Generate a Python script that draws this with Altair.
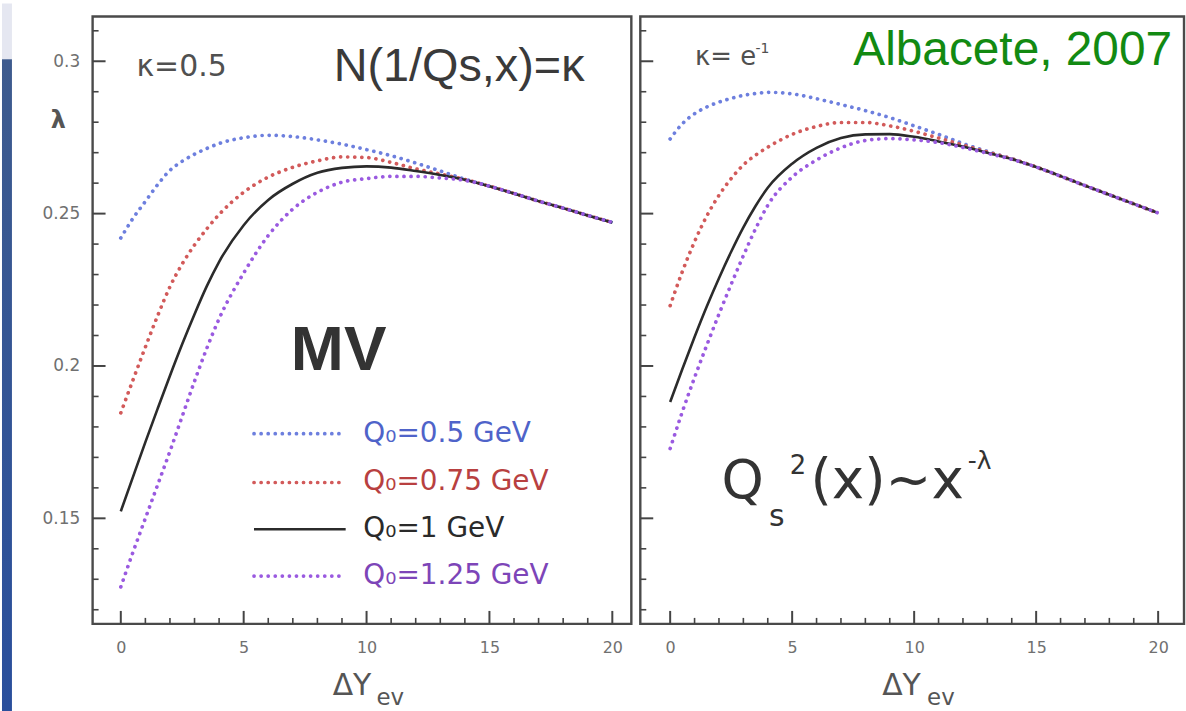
import altair as alt
import pandas as pd

# ---------------- data ----------------
X = [0, 0.5, 1, 1.5, 2, 2.5, 3, 3.5, 4, 5, 6, 7, 8, 9, 10, 11, 12, 13, 14, 15, 16, 17, 18, 19, 20]

# left panel (kappa = 0.5)
L_Q050 = [0.2420, 0.2485, 0.2540, 0.2595, 0.2642, 0.2672, 0.2695, 0.2714, 0.2730, 0.2749, 0.2757, 0.2753,
          0.2742, 0.2728, 0.2710, 0.2690, 0.2666, 0.2640, 0.2613, 0.2590, 0.2566, 0.2541, 0.2518, 0.2494, 0.2471]
L_Q075 = [0.1846, 0.1955, 0.2062, 0.2165, 0.2260, 0.2335, 0.2397, 0.2450, 0.2497, 0.2570, 0.2620, 0.2652,
          0.2673, 0.2686, 0.2684, 0.2668, 0.2647, 0.2630, 0.2612, 0.2590, 0.2566, 0.2541, 0.2518, 0.2494, 0.2471]
L_Q100 = [0.1523, 0.1637, 0.1750, 0.1860, 0.1968, 0.2072, 0.2170, 0.2262, 0.2342, 0.2462, 0.2545, 0.2598,
          0.2634, 0.2650, 0.2655, 0.2651, 0.2640, 0.2627, 0.2611, 0.2590, 0.2566, 0.2541, 0.2518, 0.2494, 0.2471]
L_Q125 = [0.1275, 0.1390, 0.1500, 0.1610, 0.1720, 0.1835, 0.1950, 0.2058, 0.2155, 0.2305, 0.2428, 0.2515,
          0.2570, 0.2603, 0.2615, 0.2622, 0.2622, 0.2617, 0.2609, 0.2590, 0.2566, 0.2541, 0.2518, 0.2494, 0.2471]

# right panel (kappa = e^-1)
R_Q050 = [0.2745, 0.2795, 0.2828, 0.2850, 0.2866, 0.2878, 0.2888, 0.2894, 0.2898, 0.2893, 0.2877, 0.2858,
          0.2838, 0.2815, 0.2788, 0.2760, 0.2730, 0.2704, 0.2680, 0.2653, 0.2623, 0.2592, 0.2562, 0.2532, 0.2502]
R_Q075 = [0.2198, 0.2310, 0.2408, 0.2492, 0.2560, 0.2615, 0.2660, 0.2692, 0.2718, 0.2760, 0.2786, 0.2799,
          0.2799, 0.2788, 0.2770, 0.2748, 0.2725, 0.2702, 0.2680, 0.2653, 0.2623, 0.2592, 0.2562, 0.2532, 0.2502]
R_Q100 = [0.1882, 0.1990, 0.2095, 0.2195, 0.2288, 0.2375, 0.2455, 0.2525, 0.2585, 0.2664, 0.2716, 0.2748,
          0.2760, 0.2761, 0.2752, 0.2737, 0.2720, 0.2700, 0.2679, 0.2653, 0.2623, 0.2592, 0.2562, 0.2532, 0.2502]
R_Q125 = [0.1729, 0.1850, 0.1962, 0.2068, 0.2170, 0.2268, 0.2362, 0.2450, 0.2527, 0.2620, 0.2676, 0.2716,
          0.2740, 0.2746, 0.2742, 0.2733, 0.2717, 0.2698, 0.2678, 0.2653, 0.2623, 0.2592, 0.2562, 0.2532, 0.2502]

SERIES = ["Q₀=0.5 GeV", "Q₀=0.75 GeV", "Q₀=1 GeV", "Q₀=1.25 GeV"]
X_TICKS_MAJOR = [0, 5, 10, 15, 20]
X_TICKS_MINOR = [1, 2, 3, 4, 6, 7, 8, 9, 11, 12, 13, 14, 16, 17, 18, 19]
Y_TICKS_MAJOR = [0.15, 0.2, 0.25, 0.3]
Y_TICKS_MINOR = [0.12, 0.13, 0.14, 0.16, 0.17, 0.18, 0.19, 0.21, 0.22, 0.23, 0.24,
                 0.26, 0.27, 0.28, 0.29, 0.31]
Y_DOMAIN = [0.11536, 0.31471]
XL_DOMAIN = [-1.147, 20.774]
XR_DOMAIN = [-1.224, 21.06]

# legend placement (data units of the left panel)
LEG_X1, LEG_X2, LEG_TX = 5.42, 9.15, 9.87
LEG_Y = [0.17778, 0.16176, 0.14641, 0.13105]

# ---------------- styles ----------------
LINE_STYLES = [
    dict(color="#6d7fde", strokeWidth=3.7, strokeDash=[0.1, 7], strokeCap="round"),
    dict(color="#d25a5a", strokeWidth=3.7, strokeDash=[0.1, 7], strokeCap="round"),
    dict(color="#2b2b2b", strokeWidth=2.6),
    dict(color="#9a5ae0", strokeWidth=3.7, strokeDash=[0.1, 7], strokeCap="round"),
]
TEXT_COLORS = ["#4f63c9", "#b84040", "#2a2a2a", "#7d45b8"]

H = 610
WL, WR = 541, 546
SANS = "Liberation Sans, Arial, DejaVu Sans"
DJ = "DejaVu Sans"


def build_panel(series_vals, xdom, width, left_panel):
    xs = alt.Scale(domain=xdom, nice=False, zero=False)
    ys = alt.Scale(domain=Y_DOMAIN, nice=False, zero=False)
    x_axis = alt.Axis(values=X_TICKS_MAJOR, domain=False, ticks=False, tickSize=0, grid=False,
                      labelPadding=16, labelFont=DJ, labelFontSize=16, labelColor="#707070",
                      title=None)
    if left_panel:
        y_axis = alt.Axis(values=Y_TICKS_MAJOR, format="~g", domain=False, ticks=False, tickSize=0,
                          grid=False, labelPadding=13, labelFont=DJ, labelFontSize=17,
                          labelColor="#707070", title="λ", titleAngle=0, titleX=-35, titleY=105,
                          titleAlign="center", titleBaseline="middle", titleFont=DJ,
                          titleFontSize=24, titleFontWeight="bold", titleColor="#555555")
    else:
        y_axis = None

    def X_(f):
        return alt.X(f, type="quantitative", scale=xs, axis=x_axis)

    def Y_(f):
        return alt.Y(f, type="quantitative", scale=ys, axis=y_axis)

    layers = []

    # slide background strip (left of the left panel)
    if left_panel:
        bg = pd.DataFrame({"k": [0]})
        layers.append(alt.Chart(bg).mark_rect(color="#e5e7f1").encode(
            x=alt.value(-91), x2=alt.value(-81), y=alt.value(-13), y2=alt.value(43)))
        grad = alt.Gradient(gradient="linear", x1=0, x2=0, y1=0, y2=1,
                            stops=[alt.GradientStop(color="#3e5b8e", offset=0),
                                   alt.GradientStop(color="#2a4f9c", offset=1)])
        layers.append(alt.Chart(bg).mark_rect(color=grad).encode(
            x=alt.value(-91), x2=alt.value(-81), y=alt.value(43), y2=alt.value(698)))

    # ticks (pointing inwards)
    t = pd.DataFrame({"t": X_TICKS_MAJOR})
    layers.append(alt.Chart(t).mark_rule(color="#444444", strokeWidth=2).encode(
        x=X_("t"), y=alt.value(H), y2=alt.value(H - 13)))
    t = pd.DataFrame({"t": X_TICKS_MINOR})
    layers.append(alt.Chart(t).mark_rule(color="#444444", strokeWidth=1.6).encode(
        x=X_("t"), y=alt.value(H), y2=alt.value(H - 6)))
    t = pd.DataFrame({"t": Y_TICKS_MAJOR})
    layers.append(alt.Chart(t).mark_rule(color="#444444", strokeWidth=2).encode(
        y=Y_("t"), x=alt.value(0), x2=alt.value(13)))
    t = pd.DataFrame({"t": Y_TICKS_MINOR})
    layers.append(alt.Chart(t).mark_rule(color="#444444", strokeWidth=1.6).encode(
        y=Y_("t"), x=alt.value(0), x2=alt.value(6)))

    # curves
    for name, vals, st in zip(SERIES, series_vals, LINE_STYLES):
        df = pd.DataFrame({"x": X, "y": vals, "series": name})
        layers.append(alt.Chart(df).mark_line(interpolate="monotone", **st).encode(
            x=X_("x"), y=Y_("y")))

    def txt(xv, yv, s, **kw):
        df = pd.DataFrame({"x": [xv], "y": [yv], "s": [s]})
        return alt.Chart(df).mark_text(**kw).encode(x=X_("x"), y=Y_("y"), text="s:N")

    if left_panel:
        # legend
        for name, st, yv, tc in zip(SERIES, LINE_STYLES, LEG_Y, TEXT_COLORS):
            df = pd.DataFrame({"x": [LEG_X1], "x2": [LEG_X2], "y": [yv]})
            layers.append(alt.Chart(df).mark_rule(**st).encode(
                x=X_("x"), x2="x2:Q", y=Y_("y")))
            layers.append(txt(LEG_TX, yv, name, align="left", baseline="middle",
                              font=DJ, fontSize=28, color=tc))
        layers.append(txt(0.64, 0.2951, "κ=0.5", align="left", baseline="alphabetic",
                          font=DJ, fontSize=30, color="#505050"))
        layers.append(txt(8.66, 0.2935, "N(1/Qs,x)=κ", align="left", baseline="alphabetic",
                          font=SANS, fontSize=47, color="#3a3a3a"))
        layers.append(txt(6.92, 0.1987, "MV", align="left", baseline="alphabetic",
                          font=SANS, fontSize=64, fontWeight="bold", color="#333333"))
        layers.append(txt(8.62, 0.09216, "ΔY", align="left", baseline="alphabetic",
                          font=DJ, fontSize=30, color="#555555"))
        layers.append(txt(10.40, 0.08889, "ev", align="left", baseline="alphabetic",
                          font=DJ, fontSize=23, color="#555555"))
    else:
        layers.append(txt(1.02, 0.2987, "κ= e", align="left", baseline="alphabetic",
                          font=DJ, fontSize=26, color="#505050"))
        layers.append(txt(3.5, 0.3026, "-1", align="left", baseline="alphabetic",
                          font=DJ, fontSize=14, color="#505050"))
        layers.append(txt(20.57, 0.2987, "Albacete, 2007", align="right", baseline="alphabetic",
                          font=SANS, fontSize=48, color="#128a12"))
        layers.append(txt(2.10, 0.15654, "Q", align="left", baseline="alphabetic",
                          font=DJ, fontSize=54, color="#333333"))
        layers.append(txt(4.05, 0.1474, "s", align="left", baseline="alphabetic",
                          font=DJ, fontSize=30, color="#333333"))
        layers.append(txt(4.90, 0.1644, "2", align="left", baseline="alphabetic",
                          font=DJ, fontSize=26, color="#333333"))
        layers.append(txt(5.75, 0.15654, "(x)~x", align="left", baseline="alphabetic",
                          font=DJ, fontSize=55, color="#333333"))
        layers.append(txt(12.20, 0.16634, "-λ", align="left", baseline="alphabetic",
                          font=DJ, fontSize=25, color="#333333"))
        layers.append(txt(8.69, 0.09216, "ΔY", align="left", baseline="alphabetic",
                          font=DJ, fontSize=30, color="#555555"))
        layers.append(txt(10.53, 0.08889, "ev", align="left", baseline="alphabetic",
                          font=DJ, fontSize=23, color="#555555"))

    return alt.layer(*layers).properties(width=width, height=H)


left = build_panel([L_Q050, L_Q075, L_Q100, L_Q125], XL_DOMAIN, WL, True)
right = build_panel([R_Q050, R_Q075, R_Q100, R_Q125], XR_DOMAIN, WR, False)

chart = (
    alt.hconcat(left, right, spacing=4)
    .properties(padding=0, background="white")
    .configure_view(stroke="#4a4a4a", strokeWidth=2.4)
)

chart.save("out.html", embed_options={"renderer": "svg", "actions": False})
